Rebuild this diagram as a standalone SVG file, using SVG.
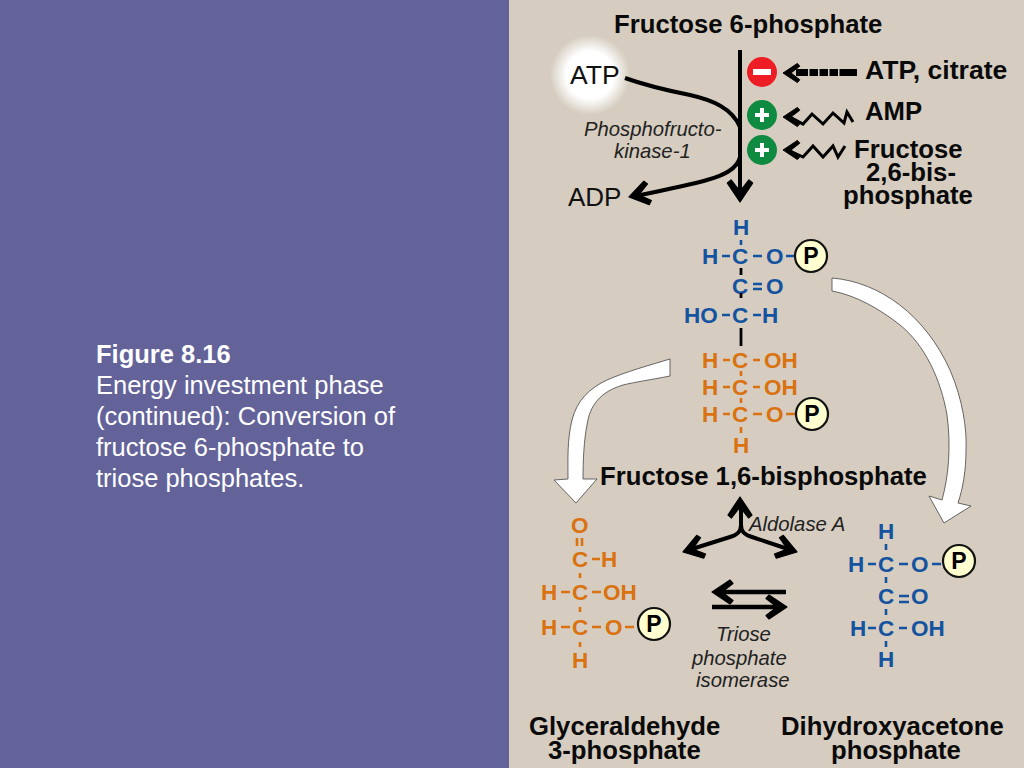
<svg xmlns="http://www.w3.org/2000/svg" width="1024" height="768" viewBox="0 0 1024 768">
<defs>
<radialGradient id="glow"><stop offset="0.6" stop-color="#fff"/><stop offset="1" stop-color="#fff" stop-opacity="0"/></radialGradient>
<path id="barb" d="M0 0L-18 -12L-21 -8.5L-10 0L-21 8.5L-18 12Z" fill="#000" stroke="#000" stroke-width="1.2" stroke-linejoin="round"/>
</defs>
<style>
text{font-family:"Liberation Sans",Arial,sans-serif}
.t{font-size:25.7px;font-weight:700;fill:#0a0a0a}
.e{font-size:20.3px;font-style:italic;fill:#222}
.c{font-size:22.5px;font-weight:700}
.blue{fill:#14539f}.or{fill:#d9720f}
.lb{stroke:#14539f;stroke-width:2.6;fill:none}.lo{stroke:#d9720f;stroke-width:2.6;fill:none}
.k{stroke:#000;fill:none;stroke-width:4}
.z{stroke:#000;fill:none;stroke-width:3}
.big{fill:#fff;stroke:#444;stroke-width:.8;stroke-linejoin:miter}
.pc{fill:#ffffd0;stroke:#111;stroke-width:2.2}
.pt{font-size:23px;font-weight:700;fill:#000;text-anchor:middle}
</style>
<rect width="1024" height="768" fill="#d6cdc0"/>
<rect width="509" height="768" fill="#63639a"/>
<g id="caption" fill="#fff" font-size="25.5">
<text x="96" y="362.5" font-weight="700">Figure 8.16</text>
<text x="96" y="393.5">Energy investment phase</text>
<text x="96" y="424.5">(continued): Conversion of</text>
<text x="96" y="455.5">fructose 6-phosphate to</text>
<text x="96" y="486.5">triose phosphates.</text>
</g>
<circle cx="590" cy="75" r="40" fill="url(#glow)"/>
<g id="connectors">
<path class="k" d="M740 50V196" stroke-width="4.5"/>
<use href="#barb" transform="translate(740,202) rotate(90) scale(1.05)"/>
<path class="k" d="M625 78C650 87 675 92 690 95C712 100 732 108 740 127M740 157C737 170 722 176 707 180C685 186 660 191 636 196"/>
<use href="#barb" transform="translate(629,197) rotate(167)"/>
<path d="M796 72.500H808M809.500 72.500H818M819.500 72.500H828M829.500 72.500H838M839.500 72.500H857" stroke="#000" stroke-width="7" fill="none"/>
<use href="#barb" transform="translate(783,73) rotate(180) scale(.8)"/>
<path class="z" d="M790 117L803 124L812 114L823 124L833 113L844 123L847 112L853 122"/>
<use href="#barb" transform="translate(783,117) rotate(180) scale(.8)"/>
<path class="z" d="M790 151L803 157L813 146L823 157L833 146L838 157L845 146"/>
<use href="#barb" transform="translate(783,150) rotate(180) scale(.8)"/>
<path class="k" stroke-width="3.6" d="M741 503V525C741 532 737 535 730 537L692 549"/>
<path class="k" stroke-width="3.6" d="M741 525C741 532 745 535 752 537L788 549"/>
<use href="#barb" transform="translate(740,497) rotate(-90)"/>
<use href="#barb" transform="translate(683,552) rotate(163)"/>
<use href="#barb" transform="translate(797,552) rotate(17)"/>
<path d="M720 592H786M712 607H778" stroke="#000" stroke-width="4.4"/>
<use href="#barb" transform="translate(712,592) rotate(180)"/>
<use href="#barb" transform="translate(787,607)"/>
<path class="big" d="M832 278C880 282 925 315 950 370C963 400 967 430 966 450C966 470 963 488 958 503L971 506L944 523L929 496L942 500C949 475 951 445 947 415C941 380 925 345 900 325C880 309 855 295 832 291Z"/>
<path class="big" d="M670 359V376C650 380 635 382 623 385C600 392 590 405 587 425C584 440 583 460 583 479L597 479L576 503L554 480L568 479C568 460 567 440 572 420C577 400 590 388 607 380C625 372 650 365 670 359Z"/>
</g>
<g id="inhibitor"><circle cx="762" cy="72" r="15" fill="#ee1c25"/><rect x="753" y="69" width="18" height="6" fill="#fff"/></g>
<g id="activator-amp"><circle cx="762" cy="115" r="15" fill="#0e8a41"/><path d="M755 115H769M762 108V122" stroke="#fff" stroke-width="4"/></g>
<g id="activator-f26"><circle cx="762" cy="150" r="15" fill="#0e8a41"/><path d="M755 150H769M762 143V157" stroke="#fff" stroke-width="4"/></g>
<g id="labels">
<text class="t" x="614" y="32.500">Fructose 6-phosphate</text>
<text x="570" y="84" font-size="26.5" fill="#111">ATP</text>
<text x="568" y="206" font-size="26" fill="#111">ADP</text>
<text class="e" x="584" y="136">Phosphofructo-</text>
<text class="e" x="614" y="158">kinase-1</text>
<text class="t" x="865" y="78.500" style="font-size:26.6px">ATP, citrate</text>
<text class="t" x="865" y="119.500">AMP</text>
<text class="t" x="854" y="157.500">Fructose</text>
<text class="t" x="866" y="180.500">2,6-bis-</text>
<text class="t" x="843" y="203.500">phosphate</text>
<text class="t" x="600" y="484.500">Fructose 1,6-bisphosphate</text>
<text class="e" x="749" y="531">Aldolase A</text>
<text class="e" x="716" y="641">Triose</text>
<text class="e" x="692" y="665">phosphate</text>
<text class="e" x="696" y="687">isomerase</text>
<text class="t" x="529" y="734.500">Glyceraldehyde</text>
<text class="t" x="548" y="758.500">3-phosphate</text>
<text class="t" x="781" y="734.500">Dihydroxyacetone</text>
<text class="t" x="831" y="758.500">phosphate</text>
</g>
<g id="fructose-bisphosphate">
<g class="c blue">
<text x="733" y="235">H</text>
<text x="702" y="264">H</text><text x="732" y="264">C</text><text x="766" y="264">O</text>
<text x="732" y="294">C</text><text x="766" y="294">O</text>
<text x="684" y="323">HO</text><text x="732" y="323">C</text><text x="762" y="323">H</text>
</g>
<path class="lb" d="M741 240V245M722 256H730M753 256H762M786 256H795M722 315H730M753 315H761M753 284H762M753 289H762"/>
<path d="M741 268V275M741 293V298M741 328V346" stroke="#000" stroke-width="2.8"/>
<g class="c or">
<text x="702" y="368">H</text><text x="732" y="368">C</text><text x="764" y="368">OH</text>
<text x="702" y="395">H</text><text x="732" y="395">C</text><text x="764" y="395">OH</text>
<text x="702" y="422">H</text><text x="732" y="422">C</text><text x="766" y="422">O</text>
<text x="733" y="453">H</text>
</g>
<path class="lo" d="M723 360H730M753 360H760M723 387H730M753 387H760M723 414H730M753 414H762M786 414H795M741 371V376M741 398V403M741 427V433"/>
<circle class="pc" cx="811" cy="256" r="16"/><text class="pt" x="811" y="264">P</text>
<circle class="pc" cx="812" cy="414" r="16"/><text class="pt" x="812" y="422">P</text>
</g>
<g id="glyceraldehyde">
<g class="c or">
<text x="571" y="533">O</text>
<text x="572" y="567">C</text><text x="601" y="567">H</text>
<text x="541" y="600">H</text><text x="572" y="600">C</text><text x="603" y="600">OH</text>
<text x="541" y="635">H</text><text x="572" y="635">C</text><text x="605" y="635">O</text>
<text x="572" y="668">H</text>
</g>
<path class="lo" d="M577 538V546M582 538V546M592 559H600M561 592H570M592 592H601M561 627H570M592 627H601M625 627H634M580 573V578M580 607V612M580 642V647"/>
<circle class="pc" cx="654" cy="624" r="16"/><text class="pt" x="654" y="632">P</text>
</g>
<g id="dihydroxyacetone">
<g class="c blue">
<text x="878" y="539">H</text>
<text x="848" y="572">H</text><text x="878" y="572">C</text><text x="911" y="572">O</text>
<text x="878" y="604">C</text><text x="911" y="604">O</text>
<text x="850" y="636">H</text><text x="878" y="636">C</text><text x="911" y="636">OH</text>
<text x="878" y="667">H</text>
</g>
<path class="lb" d="M886 544V550M868 564H876M899 564H908M932 564H941M886 577V583M899 596H909M899 602H909M886 609V615M868 628H876M899 628H907M886 641V647"/>
<circle class="pc" cx="959" cy="561" r="16"/><text class="pt" x="959" y="569">P</text>
</g>
</svg>
